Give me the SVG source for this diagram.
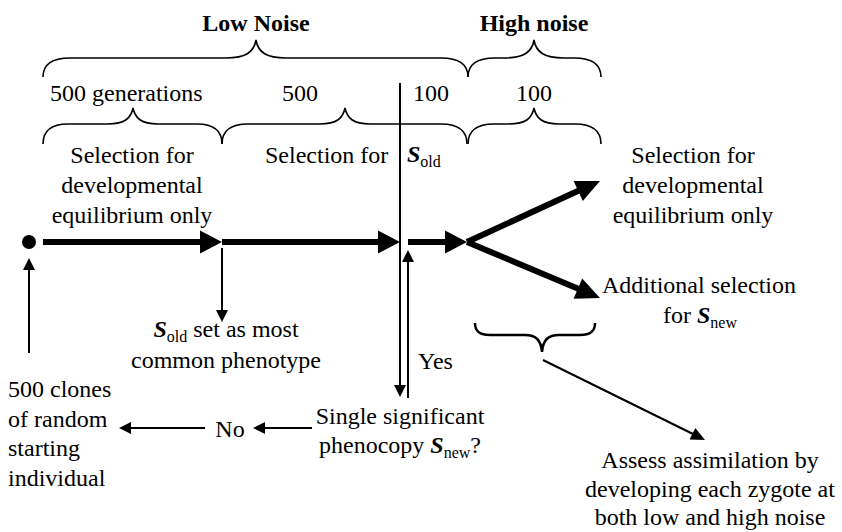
<svg xmlns="http://www.w3.org/2000/svg" width="842" height="532" viewBox="0 0 842 532" font-family="'Liberation Serif', Tinos, 'Times New Roman', 'DejaVu Serif', serif">
<style>
text{font-family:"Liberation Serif",Tinos,"Times New Roman","DejaVu Serif",serif;font-size:24px;fill:#000}
.b{font-weight:bold}
.bi{font-weight:bold;font-style:italic}
.sub{font-size:16px}
.m{text-anchor:middle}
.brace{fill:none;stroke:#000;stroke-width:1.6}
.thin{fill:none;stroke:#000;stroke-width:2}
.thick{fill:none;stroke:#000;stroke-width:6}
.head{fill:#000;stroke:none}
</style>
<rect width="842" height="532" fill="#fff"/>
<g id="braces">
<path class="brace" d="M43,77 C43,64 52,58 70,58 L226,58 C246,58 254,52 256,40 C258,52 266,58 286,58 L441,58 C459,58 468,64 468,77"/>
<path class="brace" d="M468,77 C468,64 477,58 495,58 L504,58 C524,58 532,52 534,40 C536,52 544,58 564,58 L574,58 C592,58 601,64 601,77"/>
<path class="brace" d="M43,144 C43,131 51,124 68,124 L108,124 C125,124 131,118 133,108 C135,118 141,124 158,124 L197,124 C214,124 222,131 222,144"/>
<path class="brace" d="M222,144 C222,131 231,124 248,124 L320,124 C337,124 343,118 345,108 C347,118 353,124 370,124 L441,124 C458,124 467,131 467,144"/>
<path class="brace" d="M468,144 C468,131 477,124 494,124 L509,124 C526,124 532,118 534,108 C536,118 542,124 559,124 L575,124 C592,124 601,131 601,144"/>
<path class="brace" style="stroke-width:2.5" d="M475,323 C475,331 479,335 490,335 L525,335 C536,335 541,340 542,352 C543,340 548,335 559,335 L580,335 C591,335 595,331 595,323"/>
</g>
<g id="labels-top">
<text class="b m" x="256" y="31">Low Noise</text>
<text class="b m" x="534" y="31">High noise</text>
<text x="50" y="101">500 generations</text>
<text class="m" x="300" y="101">500</text>
<text class="m" x="431" y="101">100</text>
<text class="m" x="534" y="101">100</text>
</g>
<g id="connectors">
<line class="thin" x1="400" y1="83" x2="400" y2="386"/>
<polygon class="head" points="394,385 400,397 406,385"/>
<line class="thin" x1="408" y1="398" x2="408" y2="261"/>
<polygon class="head" points="402,262 408,250 414,262"/>
<line class="thick" x1="43" y1="242" x2="202" y2="242"/>
<polygon class="head" points="200,230.5 222,242 200,253.5"/>
<line class="thick" x1="222" y1="242" x2="380" y2="242"/>
<polygon class="head" points="378,230.5 400,242 378,253.5"/>
<line class="thick" x1="408" y1="242" x2="447" y2="242"/>
<polygon class="head" points="445,230.5 467,242 445,253.5"/>
<line class="thick" x1="467" y1="242" x2="580" y2="190"/>
<polygon class="head" points="582.8,201 600,181 573.6,181"/>
<line class="thick" x1="467" y1="242" x2="580" y2="289.5"/>
<polygon class="head" points="573.6,298.8 600,298 582.2,278.6"/>
<line class="thin" x1="222" y1="248" x2="222" y2="311"/>
<polygon class="head" points="216,310 222,322 228,310"/>
<line class="thin" x1="29" y1="353" x2="29" y2="269"/>
<polygon class="head" points="23,270 29,258 35,270"/>
<line class="thin" x1="312" y1="428" x2="264" y2="428"/>
<polygon class="head" points="265,422 253,428 265,434"/>
<line class="thin" x1="205" y1="428" x2="130" y2="428"/>
<polygon class="head" points="131,422 119,428 131,434"/>
<line class="thin" x1="543" y1="360" x2="693" y2="434"/>
<polygon class="head" points="689.6,439.6 705,440 695.3,428"/>
</g>
<g id="start">
<circle cx="29" cy="242" r="7" fill="#000"/>
</g>
<g id="node-sel1">
<text class="m" x="132" y="163">Selection for</text>
<text class="m" x="132" y="193">developmental</text>
<text class="m" x="132" y="223">equilibrium only</text>
</g>
<g id="node-selold">
<text x="265" y="163">Selection for</text>
<text x="407" y="162"><tspan class="bi">S</tspan><tspan class="sub" dy="5">old</tspan></text>
</g>
<g id="node-sel2">
<text class="m" x="693" y="163">Selection for</text>
<text class="m" x="693" y="193">developmental</text>
<text class="m" x="693" y="223">equilibrium only</text>
</g>
<g id="node-add">
<text class="m" x="699" y="293">Additional selection</text>
<text class="m" x="700" y="323">for <tspan class="bi">S</tspan><tspan class="sub" dy="5">new</tspan></text>
</g>
<g id="node-sold">
<text class="m" x="226" y="337"><tspan class="bi">S</tspan><tspan class="sub" dy="5">old</tspan><tspan dy="-5"> set as most</tspan></text>
<text class="m" x="226" y="368">common phenotype</text>
</g>
<g id="node-clones">
<text x="8" y="397">500 clones</text>
<text x="8" y="426.5">of random</text>
<text x="8" y="456">starting</text>
<text x="8" y="485.5">individual</text>
</g>
<g id="node-no">
<text class="m" x="230" y="437">No</text>
</g>
<g id="node-yes">
<text x="418" y="369">Yes</text>
</g>
<g id="node-single">
<text class="m" x="400" y="424">Single significant</text>
<text class="m" x="400" y="453">phenocopy <tspan class="bi">S</tspan><tspan class="sub" dy="5">new</tspan><tspan dy="-5">?</tspan></text>
</g>
<g id="node-assess">
<text class="m" x="710" y="468">Assess assimilation by</text>
<text class="m" x="710" y="497">developing each zygote at</text>
<text class="m" x="710" y="525">both low and high noise</text>
</g>
</svg>
